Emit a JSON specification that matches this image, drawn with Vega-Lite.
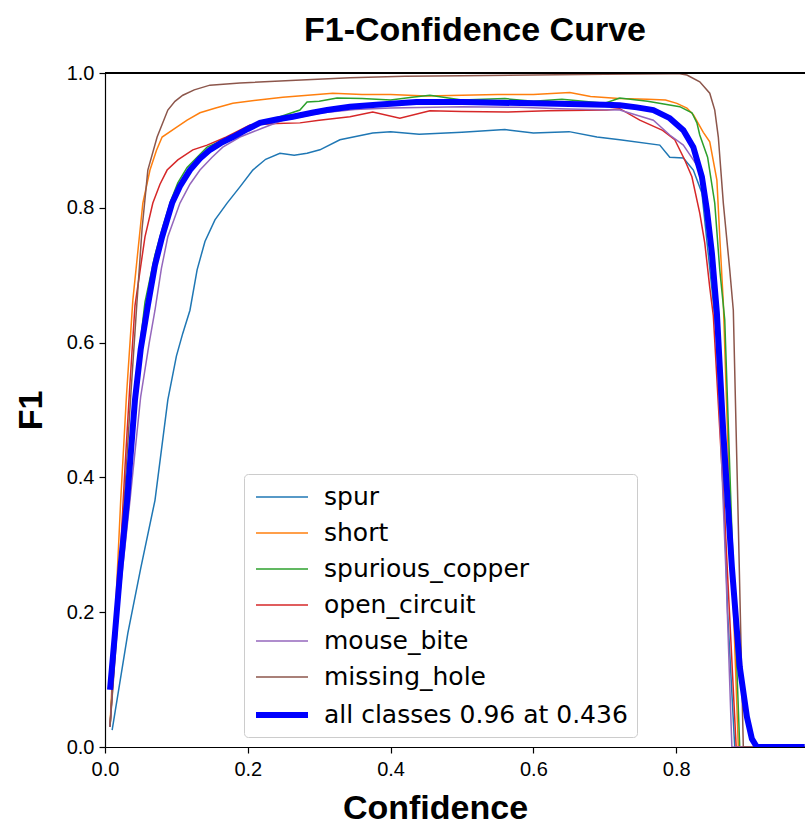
{
  "$schema": "https://vega.github.io/schema/vega-lite/v6.json",
  "width": 700,
  "height": 674,
  "autosize": {"type": "none"},
  "padding": {"left": 105, "top": 73, "right": 0, "bottom": 83},
  "background": "white",
  "title": {"text": "F1-Confidence Curve", "font": "Liberation Sans", "fontSize": 34, "fontWeight": "bold", "color": "black", "anchor": "middle", "dx": 20, "offset": 15},
  "config": {
    "view": {"stroke": null},
    "font": "Liberation Sans",
    "axis": {"grid": false, "domainColor": "black", "domainWidth": 1.2, "tickColor": "black", "tickWidth": 1.2, "tickSize": 6, "labelFont": "Liberation Sans", "labelFontSize": 20, "labelColor": "black", "labelFlush": false, "labelOverlap": false, "titleFont": "Liberation Sans", "titleFontSize": 34, "titleFontWeight": "bold", "titleColor": "black"},
    "legend": {"title": null, "orient": "none", "legendX": 139, "legendY": 401, "symbolType": "M-2,0H2", "symbolSize": 676, "symbolOffset": 13, "labelFont": "DejaVu Sans", "labelFontSize": 25, "labelColor": "black", "labelOffset": 26, "labelLimit": 600, "rowPadding": 9, "padding": 9, "strokeColor": "#cccccc", "fillColor": "white", "cornerRadius": 4}
  },
  "data": {"values": [
    {"s":"spur","x":0.010,"y":0.025},{"s":"spur","x":0.032,"y":0.169},{"s":"spur","x":0.050,"y":0.265},{"s":"spur","x":0.070,"y":0.366},{"s":"spur","x":0.088,"y":0.515},{"s":"spur","x":0.100,"y":0.580},{"s":"spur","x":0.109,"y":0.614},{"s":"spur","x":0.119,"y":0.648},{"s":"spur","x":0.129,"y":0.708},{"s":"spur","x":0.140,"y":0.750},{"s":"spur","x":0.154,"y":0.782},{"s":"spur","x":0.171,"y":0.807},{"s":"spur","x":0.189,"y":0.831},{"s":"spur","x":0.207,"y":0.856},{"s":"spur","x":0.225,"y":0.872},{"s":"spur","x":0.245,"y":0.881},{"s":"spur","x":0.265,"y":0.878},{"s":"spur","x":0.283,"y":0.881},{"s":"spur","x":0.301,"y":0.886},{"s":"spur","x":0.329,"y":0.901},{"s":"spur","x":0.375,"y":0.911},{"s":"spur","x":0.400,"y":0.913},{"s":"spur","x":0.440,"y":0.909},{"s":"spur","x":0.500,"y":0.912},{"s":"spur","x":0.560,"y":0.916},{"s":"spur","x":0.600,"y":0.911},{"s":"spur","x":0.650,"y":0.913},{"s":"spur","x":0.689,"y":0.905},{"s":"spur","x":0.721,"y":0.901},{"s":"spur","x":0.777,"y":0.893},{"s":"spur","x":0.791,"y":0.875},{"s":"spur","x":0.810,"y":0.874},{"s":"spur","x":0.824,"y":0.856},{"s":"spur","x":0.836,"y":0.822},{"s":"spur","x":0.850,"y":0.680},{"s":"spur","x":0.861,"y":0.564},{"s":"spur","x":0.866,"y":0.400},{"s":"spur","x":0.872,"y":0.200},{"s":"spur","x":0.882,"y":0.0},{"s":"spur","x":0.980,"y":0.0},

    {"s":"short","x":0.007,"y":0.030},{"s":"short","x":0.022,"y":0.366},{"s":"short","x":0.030,"y":0.520},{"s":"short","x":0.039,"y":0.663},{"s":"short","x":0.053,"y":0.807},{"s":"short","x":0.063,"y":0.856},{"s":"short","x":0.072,"y":0.885},{"s":"short","x":0.080,"y":0.905},{"s":"short","x":0.101,"y":0.920},{"s":"short","x":0.115,"y":0.930},{"s":"short","x":0.133,"y":0.941},{"s":"short","x":0.155,"y":0.948},{"s":"short","x":0.179,"y":0.955},{"s":"short","x":0.215,"y":0.960},{"s":"short","x":0.249,"y":0.964},{"s":"short","x":0.319,"y":0.970},{"s":"short","x":0.360,"y":0.968},{"s":"short","x":0.400,"y":0.968},{"s":"short","x":0.450,"y":0.966},{"s":"short","x":0.500,"y":0.967},{"s":"short","x":0.550,"y":0.968},{"s":"short","x":0.600,"y":0.968},{"s":"short","x":0.651,"y":0.971},{"s":"short","x":0.680,"y":0.965},{"s":"short","x":0.720,"y":0.962},{"s":"short","x":0.760,"y":0.961},{"s":"short","x":0.785,"y":0.960},{"s":"short","x":0.801,"y":0.955},{"s":"short","x":0.815,"y":0.948},{"s":"short","x":0.824,"y":0.938},{"s":"short","x":0.838,"y":0.912},{"s":"short","x":0.847,"y":0.898},{"s":"short","x":0.857,"y":0.841},{"s":"short","x":0.861,"y":0.757},{"s":"short","x":0.866,"y":0.659},{"s":"short","x":0.876,"y":0.330},{"s":"short","x":0.887,"y":0.0},{"s":"short","x":0.980,"y":0.0},

    {"s":"spurious_copper","x":0.007,"y":0.030},{"s":"spurious_copper","x":0.014,"y":0.150},{"s":"spurious_copper","x":0.029,"y":0.370},{"s":"spurious_copper","x":0.040,"y":0.515},{"s":"spurious_copper","x":0.056,"y":0.660},{"s":"spurious_copper","x":0.070,"y":0.730},{"s":"spurious_copper","x":0.081,"y":0.772},{"s":"spurious_copper","x":0.092,"y":0.810},{"s":"spurious_copper","x":0.102,"y":0.837},{"s":"spurious_copper","x":0.115,"y":0.860},{"s":"spurious_copper","x":0.129,"y":0.875},{"s":"spurious_copper","x":0.143,"y":0.890},{"s":"spurious_copper","x":0.179,"y":0.907},{"s":"spurious_copper","x":0.217,"y":0.927},{"s":"spurious_copper","x":0.245,"y":0.935},{"s":"spurious_copper","x":0.273,"y":0.945},{"s":"spurious_copper","x":0.283,"y":0.957},{"s":"spurious_copper","x":0.300,"y":0.958},{"s":"spurious_copper","x":0.325,"y":0.963},{"s":"spurious_copper","x":0.360,"y":0.962},{"s":"spurious_copper","x":0.400,"y":0.960},{"s":"spurious_copper","x":0.430,"y":0.964},{"s":"spurious_copper","x":0.455,"y":0.967},{"s":"spurious_copper","x":0.500,"y":0.960},{"s":"spurious_copper","x":0.560,"y":0.962},{"s":"spurious_copper","x":0.600,"y":0.958},{"s":"spurious_copper","x":0.640,"y":0.961},{"s":"spurious_copper","x":0.700,"y":0.955},{"s":"spurious_copper","x":0.721,"y":0.963},{"s":"spurious_copper","x":0.760,"y":0.958},{"s":"spurious_copper","x":0.805,"y":0.950},{"s":"spurious_copper","x":0.822,"y":0.941},{"s":"spurious_copper","x":0.829,"y":0.926},{"s":"spurious_copper","x":0.833,"y":0.908},{"s":"spurious_copper","x":0.844,"y":0.875},{"s":"spurious_copper","x":0.854,"y":0.807},{"s":"spurious_copper","x":0.861,"y":0.708},{"s":"spurious_copper","x":0.868,"y":0.634},{"s":"spurious_copper","x":0.878,"y":0.320},{"s":"spurious_copper","x":0.889,"y":0.0},{"s":"spurious_copper","x":0.980,"y":0.0},

    {"s":"open_circuit","x":0.007,"y":0.030},{"s":"open_circuit","x":0.018,"y":0.218},{"s":"open_circuit","x":0.028,"y":0.415},{"s":"open_circuit","x":0.035,"y":0.540},{"s":"open_circuit","x":0.042,"y":0.655},{"s":"open_circuit","x":0.056,"y":0.757},{"s":"open_circuit","x":0.067,"y":0.807},{"s":"open_circuit","x":0.077,"y":0.835},{"s":"open_circuit","x":0.087,"y":0.856},{"s":"open_circuit","x":0.102,"y":0.871},{"s":"open_circuit","x":0.123,"y":0.886},{"s":"open_circuit","x":0.143,"y":0.893},{"s":"open_circuit","x":0.170,"y":0.905},{"s":"open_circuit","x":0.203,"y":0.923},{"s":"open_circuit","x":0.240,"y":0.925},{"s":"open_circuit","x":0.273,"y":0.926},{"s":"open_circuit","x":0.300,"y":0.930},{"s":"open_circuit","x":0.343,"y":0.935},{"s":"open_circuit","x":0.375,"y":0.942},{"s":"open_circuit","x":0.413,"y":0.933},{"s":"open_circuit","x":0.455,"y":0.944},{"s":"open_circuit","x":0.500,"y":0.943},{"s":"open_circuit","x":0.563,"y":0.942},{"s":"open_circuit","x":0.620,"y":0.944},{"s":"open_circuit","x":0.703,"y":0.945},{"s":"open_circuit","x":0.721,"y":0.947},{"s":"open_circuit","x":0.749,"y":0.930},{"s":"open_circuit","x":0.781,"y":0.915},{"s":"open_circuit","x":0.798,"y":0.901},{"s":"open_circuit","x":0.812,"y":0.871},{"s":"open_circuit","x":0.822,"y":0.846},{"s":"open_circuit","x":0.833,"y":0.792},{"s":"open_circuit","x":0.840,"y":0.748},{"s":"open_circuit","x":0.847,"y":0.682},{"s":"open_circuit","x":0.852,"y":0.640},{"s":"open_circuit","x":0.868,"y":0.340},{"s":"open_circuit","x":0.884,"y":0.0},{"s":"open_circuit","x":0.980,"y":0.0},

    {"s":"mouse_bite","x":0.007,"y":0.030},{"s":"mouse_bite","x":0.018,"y":0.200},{"s":"mouse_bite","x":0.035,"y":0.366},{"s":"mouse_bite","x":0.050,"y":0.520},{"s":"mouse_bite","x":0.062,"y":0.600},{"s":"mouse_bite","x":0.070,"y":0.648},{"s":"mouse_bite","x":0.079,"y":0.710},{"s":"mouse_bite","x":0.088,"y":0.757},{"s":"mouse_bite","x":0.105,"y":0.807},{"s":"mouse_bite","x":0.119,"y":0.835},{"s":"mouse_bite","x":0.133,"y":0.856},{"s":"mouse_bite","x":0.150,"y":0.875},{"s":"mouse_bite","x":0.165,"y":0.890},{"s":"mouse_bite","x":0.189,"y":0.905},{"s":"mouse_bite","x":0.220,"y":0.918},{"s":"mouse_bite","x":0.249,"y":0.930},{"s":"mouse_bite","x":0.305,"y":0.941},{"s":"mouse_bite","x":0.350,"y":0.946},{"s":"mouse_bite","x":0.400,"y":0.948},{"s":"mouse_bite","x":0.500,"y":0.950},{"s":"mouse_bite","x":0.580,"y":0.949},{"s":"mouse_bite","x":0.637,"y":0.947},{"s":"mouse_bite","x":0.680,"y":0.946},{"s":"mouse_bite","x":0.721,"y":0.945},{"s":"mouse_bite","x":0.768,"y":0.930},{"s":"mouse_bite","x":0.791,"y":0.908},{"s":"mouse_bite","x":0.810,"y":0.893},{"s":"mouse_bite","x":0.824,"y":0.871},{"s":"mouse_bite","x":0.833,"y":0.856},{"s":"mouse_bite","x":0.843,"y":0.800},{"s":"mouse_bite","x":0.850,"y":0.725},{"s":"mouse_bite","x":0.856,"y":0.620},{"s":"mouse_bite","x":0.862,"y":0.466},{"s":"mouse_bite","x":0.870,"y":0.250},{"s":"mouse_bite","x":0.878,"y":0.0},{"s":"mouse_bite","x":0.980,"y":0.0},

    {"s":"missing_hole","x":0.007,"y":0.030},{"s":"missing_hole","x":0.016,"y":0.160},{"s":"missing_hole","x":0.027,"y":0.366},{"s":"missing_hole","x":0.036,"y":0.520},{"s":"missing_hole","x":0.044,"y":0.648},{"s":"missing_hole","x":0.052,"y":0.770},{"s":"missing_hole","x":0.060,"y":0.856},{"s":"missing_hole","x":0.073,"y":0.905},{"s":"missing_hole","x":0.088,"y":0.945},{"s":"missing_hole","x":0.098,"y":0.958},{"s":"missing_hole","x":0.109,"y":0.967},{"s":"missing_hole","x":0.125,"y":0.975},{"s":"missing_hole","x":0.147,"y":0.982},{"s":"missing_hole","x":0.189,"y":0.985},{"s":"missing_hole","x":0.260,"y":0.989},{"s":"missing_hole","x":0.343,"y":0.993},{"s":"missing_hole","x":0.420,"y":0.995},{"s":"missing_hole","x":0.500,"y":0.996},{"s":"missing_hole","x":0.600,"y":0.997},{"s":"missing_hole","x":0.700,"y":0.998},{"s":"missing_hole","x":0.790,"y":0.999},{"s":"missing_hole","x":0.805,"y":0.999},{"s":"missing_hole","x":0.815,"y":0.997},{"s":"missing_hole","x":0.833,"y":0.987},{"s":"missing_hole","x":0.847,"y":0.970},{"s":"missing_hole","x":0.854,"y":0.945},{"s":"missing_hole","x":0.859,"y":0.905},{"s":"missing_hole","x":0.866,"y":0.807},{"s":"missing_hole","x":0.875,"y":0.708},{"s":"missing_hole","x":0.880,"y":0.648},{"s":"missing_hole","x":0.887,"y":0.330},{"s":"missing_hole","x":0.894,"y":0.0},{"s":"missing_hole","x":0.980,"y":0.0},

    {"s":"all classes 0.96 at 0.436","x":0.007,"y":0.085},{"s":"all classes 0.96 at 0.436","x":0.014,"y":0.169},{"s":"all classes 0.96 at 0.436","x":0.022,"y":0.270},{"s":"all classes 0.96 at 0.436","x":0.031,"y":0.366},{"s":"all classes 0.96 at 0.436","x":0.042,"y":0.515},{"s":"all classes 0.96 at 0.436","x":0.050,"y":0.590},{"s":"all classes 0.96 at 0.436","x":0.060,"y":0.655},{"s":"all classes 0.96 at 0.436","x":0.070,"y":0.715},{"s":"all classes 0.96 at 0.436","x":0.080,"y":0.757},{"s":"all classes 0.96 at 0.436","x":0.094,"y":0.807},{"s":"all classes 0.96 at 0.436","x":0.105,"y":0.832},{"s":"all classes 0.96 at 0.436","x":0.119,"y":0.856},{"s":"all classes 0.96 at 0.436","x":0.133,"y":0.873},{"s":"all classes 0.96 at 0.436","x":0.147,"y":0.886},{"s":"all classes 0.96 at 0.436","x":0.162,"y":0.896},{"s":"all classes 0.96 at 0.436","x":0.179,"y":0.905},{"s":"all classes 0.96 at 0.436","x":0.200,"y":0.917},{"s":"all classes 0.96 at 0.436","x":0.217,"y":0.926},{"s":"all classes 0.96 at 0.436","x":0.240,"y":0.931},{"s":"all classes 0.96 at 0.436","x":0.263,"y":0.935},{"s":"all classes 0.96 at 0.436","x":0.290,"y":0.941},{"s":"all classes 0.96 at 0.436","x":0.311,"y":0.945},{"s":"all classes 0.96 at 0.436","x":0.343,"y":0.950},{"s":"all classes 0.96 at 0.436","x":0.380,"y":0.953},{"s":"all classes 0.96 at 0.436","x":0.436,"y":0.957},{"s":"all classes 0.96 at 0.436","x":0.500,"y":0.957},{"s":"all classes 0.96 at 0.436","x":0.550,"y":0.956},{"s":"all classes 0.96 at 0.436","x":0.600,"y":0.955},{"s":"all classes 0.96 at 0.436","x":0.650,"y":0.954},{"s":"all classes 0.96 at 0.436","x":0.700,"y":0.953},{"s":"all classes 0.96 at 0.436","x":0.721,"y":0.952},{"s":"all classes 0.96 at 0.436","x":0.745,"y":0.949},{"s":"all classes 0.96 at 0.436","x":0.768,"y":0.945},{"s":"all classes 0.96 at 0.436","x":0.791,"y":0.933},{"s":"all classes 0.96 at 0.436","x":0.810,"y":0.915},{"s":"all classes 0.96 at 0.436","x":0.824,"y":0.890},{"s":"all classes 0.96 at 0.436","x":0.836,"y":0.846},{"s":"all classes 0.96 at 0.436","x":0.843,"y":0.797},{"s":"all classes 0.96 at 0.436","x":0.850,"y":0.733},{"s":"all classes 0.96 at 0.436","x":0.857,"y":0.644},{"s":"all classes 0.96 at 0.436","x":0.866,"y":0.466},{"s":"all classes 0.96 at 0.436","x":0.878,"y":0.267},{"s":"all classes 0.96 at 0.436","x":0.889,"y":0.119},{"s":"all classes 0.96 at 0.436","x":0.899,"y":0.045},{"s":"all classes 0.96 at 0.436","x":0.906,"y":0.012},{"s":"all classes 0.96 at 0.436","x":0.913,"y":0.0},{"s":"all classes 0.96 at 0.436","x":0.980,"y":0.0}
  ]},
  "layer": [
    {
      "mark": {"type": "line", "clip": true, "interpolate": "linear"},
      "encoding": {
        "x": {"field": "x", "type": "quantitative", "scale": {"domain": [0, 0.9804], "nice": false, "zero": false},
              "axis": {"values": [0, 0.2, 0.4, 0.6, 0.8], "format": ".1f", "labelPadding": 6, "title": "Confidence", "titleX": 330, "titleY": 61, "titleAlign": "center", "titleBaseline": "middle"}},
        "y": {"field": "y", "type": "quantitative", "scale": {"domain": [0, 1], "nice": false},
              "axis": {"values": [0, 0.2, 0.4, 0.6, 0.8, 1.0], "format": ".1f", "labelPadding": 5, "title": "F1", "titleX": -74, "titleY": 337, "titleAlign": "center", "titleBaseline": "middle", "titleAngle": 270}},
        "color": {"field": "s", "type": "nominal",
                  "scale": {"domain": ["spur", "short", "spurious_copper", "open_circuit", "mouse_bite", "missing_hole", "all classes 0.96 at 0.436"],
                            "range": ["#1f77b4", "#ff7f0e", "#2ca02c", "#d62728", "#9467bd", "#8c564b", "#0000ff"]},
                  "legend": {"title": null}},
        "strokeWidth": {"field": "s", "type": "nominal",
                  "scale": {"type": "ordinal", "domain": ["spur", "short", "spurious_copper", "open_circuit", "mouse_bite", "missing_hole", "all classes 0.96 at 0.436"],
                            "range": [1.5, 1.5, 1.5, 1.5, 1.5, 1.5, 6]},
                  "legend": {"title": null}}
      }
    },
    {
      "mark": {"type": "rule", "color": "black", "strokeWidth": 1.2},
      "encoding": {"y": {"datum": 1}}
    }
  ]
}
